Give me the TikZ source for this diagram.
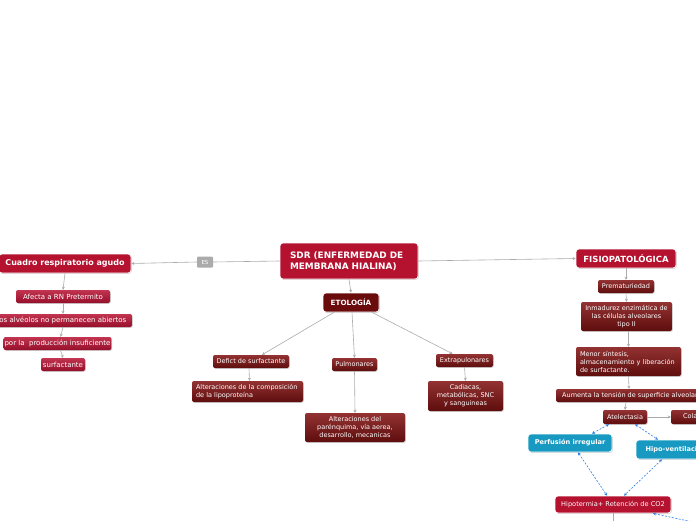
\documentclass[tikz,border=0pt]{standalone}
\usepackage{fontspec}
\setmainfont{DejaVu Sans}
\usetikzlibrary{arrows.meta,shadows}
\definecolor{mainred}{HTML}{B4122F}
\definecolor{etored}{HTML}{6B0C0C}
\definecolor{lredtop}{HTML}{C23450}
\definecolor{lredbot}{HTML}{960F2A}
\definecolor{dredtop}{HTML}{933232}
\definecolor{dredbot}{HTML}{5E0D0D}
\definecolor{bluebox}{HTML}{1799C2}
\definecolor{linegrey}{HTML}{ABABAB}
\definecolor{esgrey}{HTML}{ABABAB}
\definecolor{dashblue}{HTML}{2E7FE0}
\tikzset{
  box/.style={rounded corners=2pt, align=center, inner sep=1pt, text=white,
    font=\fontsize{6.5}{8}\selectfont,
    drop shadow={opacity=0.35, shadow xshift=0.8pt, shadow yshift=-0.8pt}},
  mainbox/.style={box, fill=mainred, draw=white, line width=0.7pt, rounded corners=3pt,
    font=\bfseries\fontsize{8}{9.6}\selectfont},
  etobox/.style={box, fill=etored, draw=white, line width=0.7pt, rounded corners=3pt,
    font=\bfseries\fontsize{7.2}{8.5}\selectfont},
  lsub/.style={box, top color=lredtop, bottom color=lredbot, font=\fontsize{7}{8.4}\selectfont},
  dsub/.style={box, top color=dredtop, bottom color=dredbot},
  bluenode/.style={box, fill=bluebox, draw=white, line width=0.7pt, rounded corners=3pt,
    font=\bfseries\fontsize{6.6}{8}\selectfont},
  esbox/.style={rounded corners=1pt, fill=esgrey, text=white, inner sep=1pt,
    font=\fontsize{5.5}{6.5}\selectfont},
  conn/.style={draw=linegrey, line width=0.6pt, -{Stealth[length=3pt,width=3pt]}},
  plainconn/.style={draw=linegrey, line width=0.6pt},
  bidash/.style={draw=dashblue, line width=0.6pt, dash pattern=on 2pt off 1.5pt,
    {Stealth[length=3pt,width=3pt]}-{Stealth[length=3pt,width=3pt]}},
}
\begin{document}
\begin{tikzpicture}[x=1pt,y=-1pt]
\clip (0,0) rectangle (696,520);
\fill[white] (0,0) rectangle (696,520);

% main nodes
\node[mainbox, minimum width=132pt, minimum height=19pt] (cuadro) at (65,263.5) {Cuadro respiratorio agudo};
\node[esbox, minimum width=16pt, minimum height=11pt] (es) at (205,262) {ES};
\node[mainbox, minimum height=36pt, align=left, inner xsep=10pt, text width=118pt, font=\bfseries\fontsize{8.9}{11.5}\selectfont] (sdr) at (349,261) {SDR (ENFERMEDAD DE\\MEMBRANA HIALINA)};
\node[etobox, minimum width=56pt, minimum height=19pt] (etol) at (351,302.5) {ETOLOGÍA};
\node[mainbox, minimum width=100pt, minimum height=19pt, font=\bfseries\fontsize{8.5}{10}\selectfont] (fisio) at (626,258.5) {FISIOPATOLÓGICA};

% left branch
\node[lsub, minimum width=94pt, minimum height=13pt] (afecta) at (63,296.5) {Afecta a RN Pretermito};
\node[lsub, minimum width=142pt, minimum height=13pt] (losalv) at (61,320.5) {Los alvéolos no permanecen abiertos};
\node[lsub, minimum width=105pt, minimum height=13pt] (porla) at (57.5,343.5) {por la\ \ producción insuficiente};
\node[lsub, minimum width=44pt, minimum height=13pt] (surf) at (63,364.5) {surfactante};

% etologia branch
\node[dsub, minimum width=76pt, minimum height=13pt] (defict) at (251,361.5) {Defict de surfactante};
\node[dsub, minimum height=21pt, align=left, inner xsep=4pt, text width=103pt] (altcomp) at (247.5,391.5) {Alteraciones de la composición\\de la lipoproteína};
\node[dsub, minimum width=45pt, minimum height=13pt] (pulm) at (354.5,364.5) {Pulmonares};
\node[dsub, minimum width=100pt, minimum height=29pt] (altpar) at (355,427.5) {Alteraciones del\\parénquima, vía aerea,\\desarrollo, mecanicas};
\node[dsub, minimum width=57pt, minimum height=13pt] (extra) at (464.5,360.5) {Extrapulonares};
\node[dsub, minimum width=75pt, minimum height=30pt] (cadi) at (465.5,396) {Cadiacas,\\metabólicas, SNC\\y sanguineas};

% fisiopatologia branch
\node[dsub, minimum width=56pt, minimum height=13pt] (prem) at (626,286.5) {Prematuriedad};
\node[dsub, minimum width=91pt, minimum height=29pt] (inmad) at (626.5,316.5) {Inmadurez enzimática de\\las células alveolares\\tipo II};
\node[dsub, minimum height=29pt, align=left, inner xsep=4pt, text width=97pt] (menor) at (628.5,361.5) {Menor síntesis,\\almacenamiento y liberación\\de surfactante.};
\node[dsub, minimum width=148pt, minimum height=13pt] (aumenta) at (630,395.5) {Aumenta la tensión de superficie alveolar};
\node[dsub, minimum width=44pt, minimum height=14pt] (atel) at (625,417) {Atelectasia};
\node[dsub, minimum width=50pt, minimum height=14pt] (colapso) at (696,417) {Colapso};
\node[bluenode, minimum width=84pt, minimum height=18pt] (perf) at (570,443) {Perfusión irregular};
\node[bluenode, minimum width=80pt, minimum height=19pt] (hipov) at (676,449.5) {Hipo-ventilación};
\node[mainbox, minimum width=116pt, minimum height=17pt, font=\fontsize{6.6}{8}\selectfont] (hipot) at (613,504.5) {Hipotermia+ Retención de CO2};

\coordinate (hipotdown) at (613,530);
\coordinate (hipotright) at (702,524);

% connectors
\draw[plainconn] (sdr.west) -- (es.east);
\draw[conn] (es.west) -- (cuadro.east);
\draw[conn] (sdr.east) -- (fisio.west);
\draw[conn] (sdr.south) -- (etol.north);

\draw[conn] (cuadro.south) -- (afecta.north);
\draw[conn] (afecta.south) -- ([xshift=2pt]losalv.north);
\draw[conn] ([xshift=2pt]losalv.south) -- ([xshift=3pt]porla.north);
\draw[conn] ([xshift=3pt]porla.south) -- (surf.north);

\draw[conn] ([xshift=-17pt]etol.south) -- ([xshift=11pt]defict.north);
\draw[conn] ([xshift=1pt]etol.south) -- (pulm.north);
\draw[conn] ([xshift=21pt]etol.south) -- ([xshift=-12pt]extra.north);
\draw[conn] ([xshift=-2pt]defict.south) -- ([xshift=2pt]altcomp.north);
\draw[conn] (pulm.south) -- (altpar.north);
\draw[conn] (extra.south) -- (cadi.north);

\draw[conn] (fisio.south) -- (prem.north);
\draw[conn] (prem.south) -- (inmad.north);
\draw[conn] ([xshift=2pt]inmad.south) -- (menor.north);
\draw[conn] (menor.south) -- ([xshift=-1pt]aumenta.north);
\draw[conn] ([xshift=-4pt]aumenta.south) -- (atel.north);
\draw[conn] (atel.east) -- (colapso.west);

\draw[bidash] ([xshift=-16pt]atel.south) -- ([xshift=22pt]perf.north);
\draw[bidash] ([xshift=10pt]atel.south) -- ([xshift=-18pt]hipov.north);
\draw[bidash] ([xshift=8pt]perf.south) -- ([xshift=-6pt]hipot.north);
\draw[bidash] ([xshift=-14pt]hipov.south) -- ([xshift=11pt]hipot.north);
\draw[plainconn] (hipot.south) -- (hipotdown);
\draw[draw=dashblue, line width=0.6pt, dash pattern=on 2pt off 1.5pt, {Stealth[length=3pt,width=3pt]}-] ([xshift=40pt]hipot.south) -- (hipotright);
\end{tikzpicture}
\end{document}
